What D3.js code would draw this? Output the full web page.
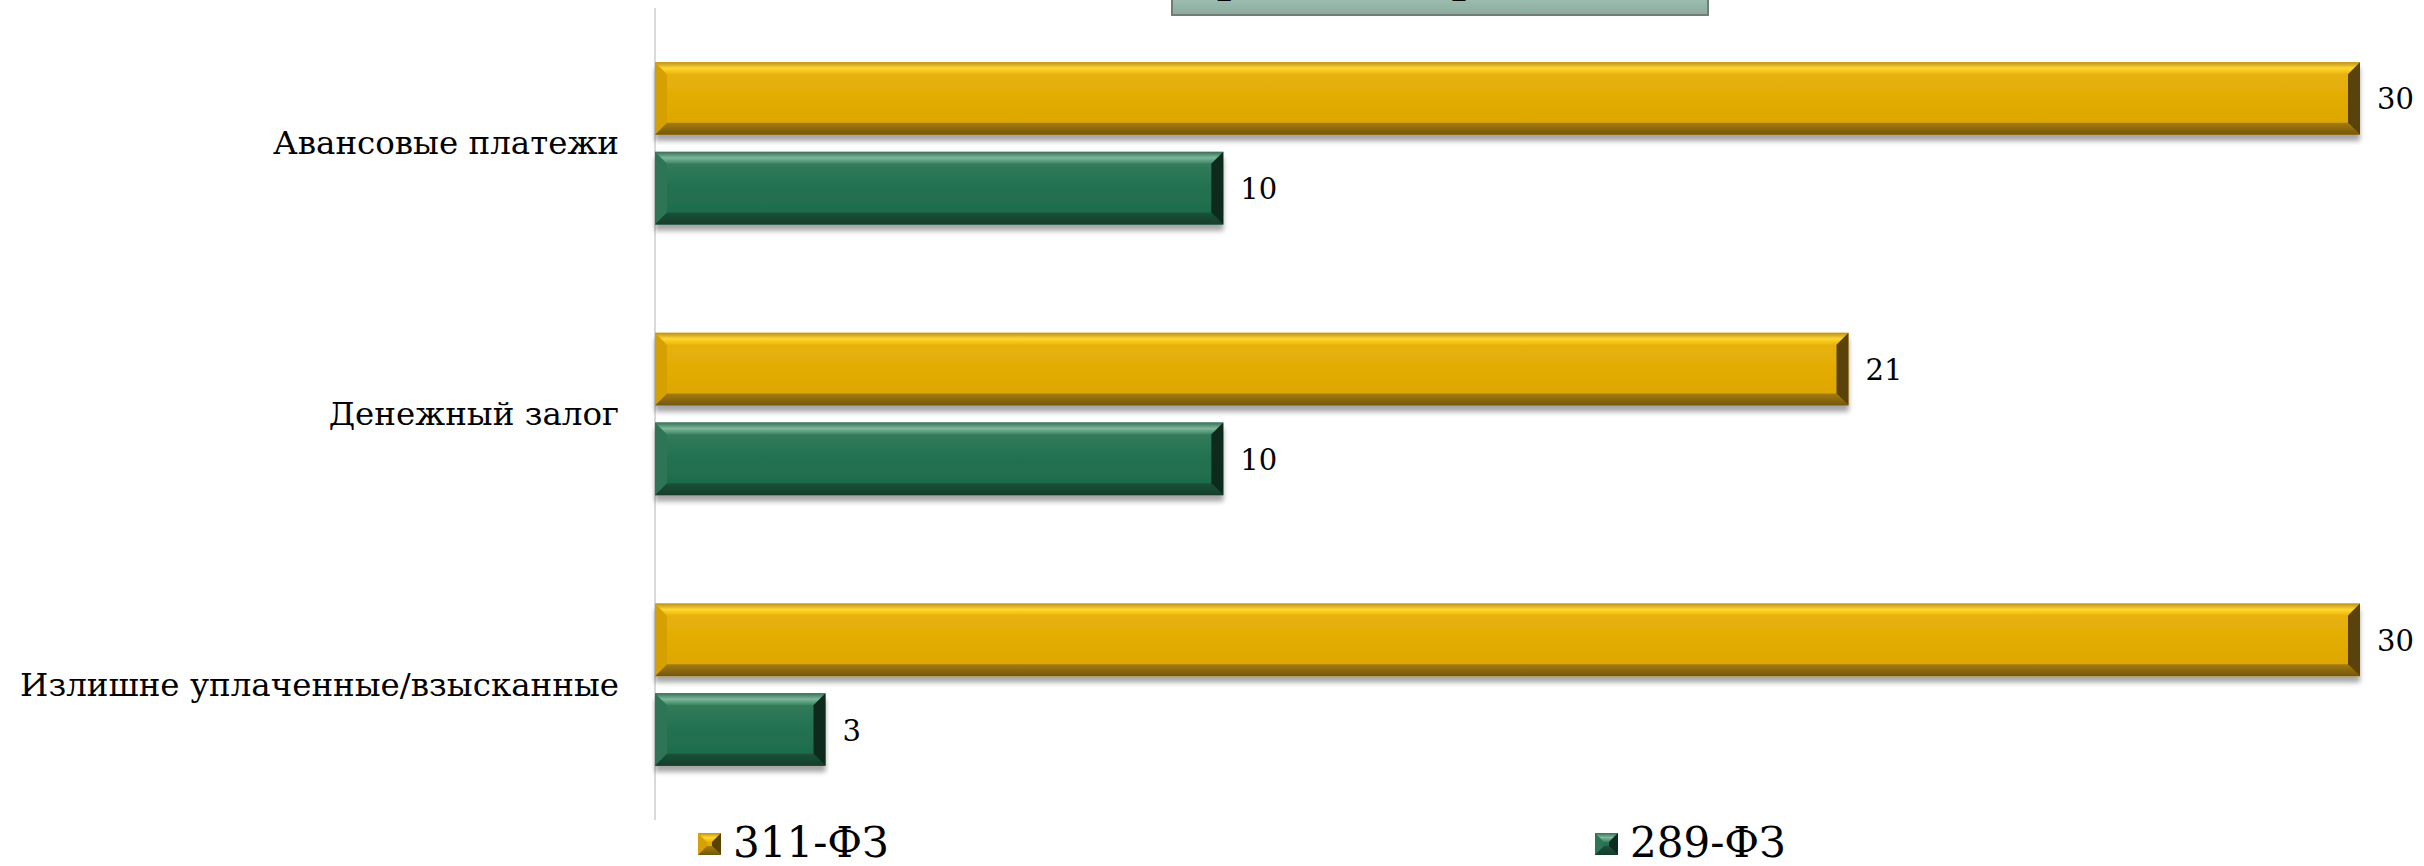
<!DOCTYPE html>
<html>
<head>
<meta charset="utf-8">
<script src="https://cdn.jsdelivr.net/npm/d3@7"></script>
<style>
	html, body { margin: 0; padding: 0; background: #ffffff; }
	svg { display: block; }
	text { font-family: "DejaVu Serif", "Liberation Serif", serif; fill: #000; }
</style>
</head>
<body>
<svg id="chart"></svg>
<script>

const chartTitle = "Сроки возврата, дней"
const categories = ["Авансовые платежи", "Денежный залог", "Излишне уплаченные/взысканные"]
const seriesNames = ["311-ФЗ", "289-ФЗ"]
const values311 = [30, 21, 30]
const values289 = [10, 10, 3]

const W = 2424, H = 866
const svg = d3.select("#chart").attr("width", W).attr("height", H)
const defs = svg.append("defs")

// bevel colours per series: face, top, left, bottom, right
const palette = {
	"311-ФЗ": {face: ["#e8b40c", "#e3ac05", "#dca505"], top: ["#b8902a", "#ffd72e", "#eab50a"], left: "#d6a105", bottom: ["#a57c0c", "#73560b"], right: "#5a4207"},
	"289-ФЗ": {face: ["#3a7f60", "#22714f", "#1d6a4a"], top: ["#3c6e57", "#7cb89b", "#3b8262"], left: "#2d7557", bottom: ["#1b5139", "#123d2a"], right: "#0b2c1e"}
}

function vGrad(id, stops) {
	let g = defs.append("linearGradient").attr("id", id)
		.attr("x1", 0).attr("y1", 0).attr("x2", 0).attr("y2", 1)
	stops.forEach((c, i) => g.append("stop").attr("offset", i / (stops.length - 1)).attr("stop-color", c))
}
seriesNames.forEach((s, i) => {
	let p = palette[s]
	vGrad("face" + i, p.face)
	vGrad("top" + i, p.top)
	vGrad("bot" + i, p.bottom)
})
vGrad("titleFill", ["#c3dccf", "#b0d0c2", "#a6c8ba", "#8aab9d"])

let shadow = defs.append("filter").attr("id", "shadow")
	.attr("x", "-2%").attr("y", "-20%").attr("width", "104%").attr("height", "150%")
shadow.append("feDropShadow").attr("dx", 0).attr("dy", 6).attr("stdDeviation", 2.5)
	.attr("flood-color", "#000").attr("flood-opacity", 0.35)

// scales
const y = d3.scaleBand().domain(categories).range([8, 820]).paddingInner(0.4).paddingOuter(0.2)
const ySub = d3.scaleBand().domain(seriesNames).range([0, y.bandwidth()]).paddingInner(0.19)
const x = d3.scaleLinear().domain([0, 30]).range([655, 2360])

// title box, cut off at the top of the picture
let clip = defs.append("clipPath").attr("id", "titleClip")
clip.append("rect").attr("x", 1172).attr("y", -60).attr("width", 536).attr("height", 74)
svg.append("rect").attr("x", 1172).attr("y", -60).attr("width", 536).attr("height", 75)
	.attr("fill", "url(#titleFill)").attr("stroke", "#6f7c77").attr("stroke-width", 2)
svg.append("text").attr("clip-path", "url(#titleClip)")
	.attr("x", 1440).attr("y", -7).attr("text-anchor", "middle")
	.style("font-size", "40px").style("font-weight", "bold")
	.text(chartTitle)

// axis line
svg.append("line")
	.attr("x1", x(0)).attr("x2", x(0))
	.attr("y1", y.range()[0]).attr("y2", y.range()[1])
	.attr("stroke", "#d9d9d9").attr("stroke-width", 2)

// category labels
svg.append("g").selectAll("text").data(categories).join("text")
	.attr("x", 619)
	.attr("y", d => y(d) + y.bandwidth() / 2 + 11)
	.attr("text-anchor", "end")
	.style("font-size", "32.5px")
	.text(d => d)

function bevelBar(g, w, h, i, b) {
	let p = palette[seriesNames[i]]
	b = Math.min(b, w / 2)
	g.append("rect").attr("width", w).attr("height", h).attr("fill", "url(#face" + i + ")")
	let poly = (pts, fill) => g.append("polygon").attr("points", pts.map(q => q.join(",")).join(" ")).attr("fill", fill)
	poly([[0, 0], [b, b], [b, h - b], [0, h]], p.left)
	poly([[0, 0], [w, 0], [w - b, b], [b, b]], "url(#top" + i + ")")
	poly([[0, h], [w, h], [w - b, h - b], [b, h - b]], "url(#bot" + i + ")")
	poly([[w, 0], [w - b, b], [w - b, h - b], [w, h]], p.right)
}

const rows = categories.map((c, k) => ({cat: c, vals: [values311[k], values289[k]]}))

rows.forEach(row => {
	row.vals.forEach((v, i) => {
		let s = seriesNames[i]
		let top = y(row.cat) + ySub(s)
		let w = x(v) - x(0)
		let h = ySub.bandwidth()
		let g = svg.append("g").attr("transform", "translate(" + x(0) + "," + top + ")")
			.attr("filter", "url(#shadow)")
		bevelBar(g, w, h, i, 12)
		svg.append("text")
			.attr("x", x(v) + 17)
			.attr("y", top + h / 2 + 11)
			.style("font-size", "29px")
			.text(v)
	})
})

// legend
const legendX = [698, 1595]
seriesNames.forEach((s, i) => {
	let g = svg.append("g").attr("transform", "translate(" + legendX[i] + ",833)")
	bevelBar(g, 23, 22, i, 9)
	svg.append("text")
		.attr("x", legendX[i] + 35)
		.attr("y", 857)
		.style("font-size", "42px")
		.text(s)
})

</script>
</body>
</html>
